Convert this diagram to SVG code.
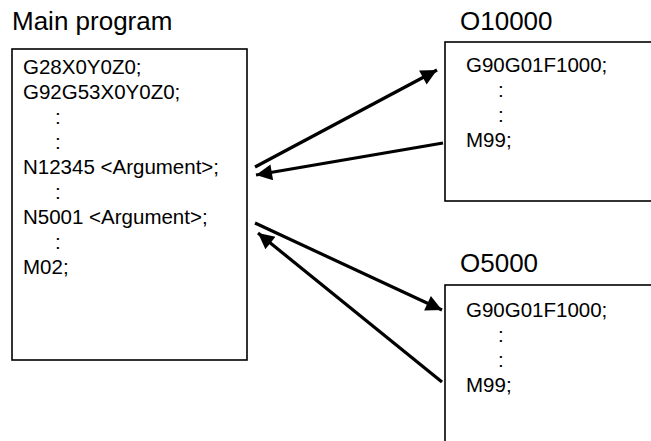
<svg xmlns="http://www.w3.org/2000/svg" width="651" height="441" viewBox="0 0 651 441">
<style>
.box{fill:#fff;stroke:#000;stroke-width:1.6}
.title{font-family:"Liberation Sans",Arial,sans-serif;font-size:26px;fill:#000}
.code{font-family:"Liberation Sans",Arial,sans-serif;font-size:20.5px;fill:#000}
.conn{stroke:#000;stroke-width:3.2;fill:none;marker-end:url(#ah)}
</style>
<defs>
<marker id="ah" viewBox="0 0 10 10" refX="10" refY="5" markerWidth="6" markerHeight="5" markerUnits="strokeWidth" orient="auto">
<path d="M0,0 L10,5 L0,10 Z" fill="#000"/>
</marker>
</defs>
<rect width="651" height="441" fill="#fff"/>
<g id="main">
<text class="title" x="12" y="30">Main program</text>
<rect class="box" x="12" y="49" width="235" height="311"/>
<text class="code" x="23" y="74">G28X0Y0Z0;</text>
<text class="code" x="23" y="99">G92G53X0Y0Z0;</text>
<text class="code" x="55" y="124">:</text>
<text class="code" x="55" y="149">:</text>
<text class="code" x="23" y="174">N12345 &lt;Argument&gt;;</text>
<text class="code" x="55" y="199">:</text>
<text class="code" x="23" y="224">N5001 &lt;Argument&gt;;</text>
<text class="code" x="55" y="249">:</text>
<text class="code" x="23" y="274">M02;</text>
</g>
<g id="o10000">
<text class="title" x="460" y="30">O10000</text>
<rect class="box" x="445" y="42" width="210" height="159"/>
<text class="code" x="466" y="72">G90G01F1000;</text>
<text class="code" x="498" y="97">:</text>
<text class="code" x="498" y="122">:</text>
<text class="code" x="466" y="147">M99;</text>
</g>
<g id="o5000">
<text class="title" x="460" y="272">O5000</text>
<rect class="box" x="445" y="285" width="210" height="170"/>
<text class="code" x="466" y="317">G90G01F1000;</text>
<text class="code" x="498" y="342">:</text>
<text class="code" x="498" y="367">:</text>
<text class="code" x="466" y="392">M99;</text>
</g>
<g id="connectors">
<line class="conn" x1="255" y1="167" x2="437" y2="70"/>
<line class="conn" x1="443" y1="143" x2="256" y2="175"/>
<line class="conn" x1="255" y1="223" x2="442" y2="310"/>
<line class="conn" x1="442" y1="382" x2="258" y2="233"/>
</g>
</svg>
